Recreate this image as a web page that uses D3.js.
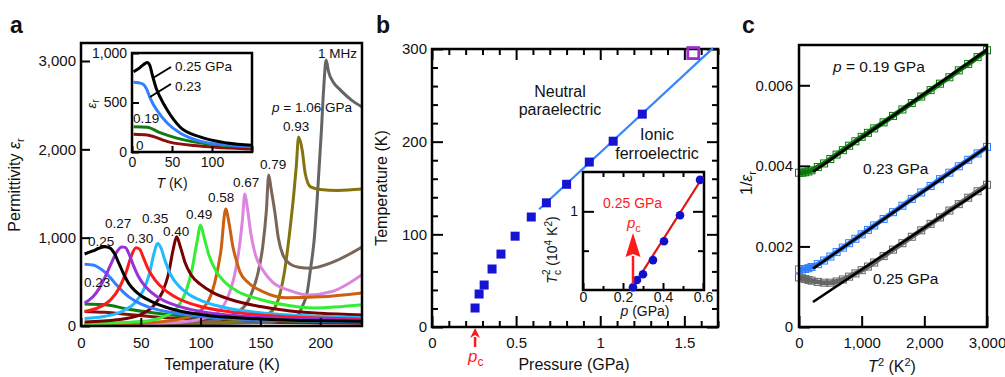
<!DOCTYPE html>
<html>
<head>
<meta charset="utf-8">
<script src="https://cdn.jsdelivr.net/npm/d3@7"></script>
<style>
  body { margin: 0; background: #fff; }
  svg { font-family: "Liberation Sans", Arial, Helvetica, sans-serif; }
</style>
</head>
<body>
<svg id="fig" width="1005" height="377"></svg>
<script>
// ---------------- data, panel a : permittivity vs temperature [T (K), eps] ----------------
var epsP000 = [[3,165],[20,155],[40,130],[60,105],[100,70],[150,45],[200,35],[235,30]];
var epsP019 = [[3,250],[20,240],[40,190],[60,150],[80,120],[100,95],[150,65],[200,50],[235,45]];
var epsP023 = [[3,700],[10,690],[15,660],[20,610],[25,540],[30,460],[35,390],[40,330],[50,250],[60,200],[75,155],[100,110],[150,70],[200,55],[235,50]];
var epsP025 = [[3,815],[10,850],[15,880],[20,898],[24,885],[28,820],[32,700],[36,580],[40,480],[45,400],[50,345],[60,270],[75,195],[100,130],[150,80],[200,60],[235,55]];
var epsP027 = [[3,260],[10,330],[15,420],[20,550],[25,700],[30,840],[34,895],[37,890],[40,820],[44,680],[48,560],[55,430],[65,320],[80,230],[100,165],[150,100],[200,75],[235,65]];
var epsP030 = [[3,165],[15,210],[25,300],[32,430],[38,620],[42,790],[46,885],[49,870],[52,780],[56,650],[62,520],[70,410],[80,320],[100,220],[125,160],[150,125],[200,90],[235,80]];
var epsP035 = [[3,85],[20,110],[35,170],[45,260],[52,400],[57,580],[61,820],[64,935],[67,880],[70,750],[75,580],[82,450],[90,360],[100,290],[120,210],[150,150],[200,110],[235,95]];
var epsP040 = [[3,45],[30,70],[50,130],[60,220],[68,380],[73,580],[77,860],[80,1010],[83,900],[87,720],[92,580],[100,470],[110,380],[125,300],[150,220],[175,170],[200,145],[235,125]];
var epsP049 = [[3,25],[50,50],[70,110],[80,200],[88,400],[93,650],[97,950],[100,1140],[103,1000],[107,800],[113,620],[120,500],[130,400],[150,300],[175,230],[195,205],[235,240]];
var epsP058 = [[3,15],[60,40],[90,100],[105,250],[112,500],[117,850],[121,1325],[124,1150],[127,900],[130,740],[133,610],[140,490],[152,390],[172,320],[200,330],[235,375]];
var epsP067 = [[3,10],[80,40],[110,120],[122,300],[128,550],[132,850],[135,1200],[137,1495],[139,1350],[142,1050],[146,800],[152,635],[160,500],[175,400],[190,350],[210,390],[235,580]];
var epsP079 = [[3,10],[100,40],[130,150],[142,350],[148,600],[152,900],[155,1300],[157,1710],[159,1550],[162,1300],[165,1000],[169,800],[175,700],[182,665],[192,655],[210,720],[235,895]];
var epsP093 = [[3,5],[120,40],[147,100],[158,150],[165,300],[170,600],[175,1120],[178,1500],[180,1800],[182,2140],[185,1990],[187.5,1730],[192,1575],[200,1545],[215,1535],[235,1550]];
var epsP106 = [[3,5],[150,40],[175,90],[181,120],[186,250],[189,370],[192,650],[195,975],[198,1540],[201,2200],[203,2700],[205,3010],[207,2880],[211,2760],[217,2670],[226,2560],[235,2480]];

var pressureLabelsA = ["0.23","0.25","0.27","0.30","0.35","0.40","0.49","0.58","0.67","0.79","0.93"];

// inset of panel a
var insetP000 = [[2,180],[19,172],[47,100],[85,60],[150,30]];
var insetP019 = [[2,255],[19,250],[35,195],[56,140],[85,92],[120,65],[150,52]];
var insetP023 = [[2,705],[8,700],[14,685],[18,640],[22,560],[26,490],[31,424],[44,293],[60,192],[85,110],[120,70],[150,55]];
var insetP025 = [[2,810],[8,840],[14,880],[19,905],[22,880],[26,760],[30,650],[35,556],[44,424],[60,253],[85,152],[119,91],[150,68]];

// ---------------- data, panel b : phase diagram ----------------
var pressureB = [0.256,0.28,0.31,0.357,0.41,0.494,0.59,0.68,0.80,0.935,1.077,1.25];
var tcB = [20.5,35.6,45.3,62.6,78.7,98,118.7,134,154,178,200.5,229.7];
var openPointB = [1.553, 295.6];
var fitLineB = [[0.637,127],[1.67,301]];
var pcValue = 0.256;

// inset of panel b : Tc^2 (10^4 K^2) vs p
var pressureInset = [0.25,0.27,0.30,0.35,0.405,0.485,0.585];
var tc2Inset = [0.035,0.127,0.20,0.38,0.62,0.95,1.40];
var fitLineInset = [[0.245,0.02],[0.6,1.44]];

// ---------------- data, panel c : 1/eps vs T^2 ----------------
var invEpsP019 = [[0,0.00383],[50,0.00383],[100,0.00384],[150,0.00386],[200,0.00389],[300,0.00397],[400,0.00406],[500,0.00417],[600,0.00428],[700,0.00439],[800,0.0045],[900,0.00461],[1000,0.00472],[1100,0.00482],[1200,0.00493],[1350,0.00508],[1500,0.00524],[1650,0.0054],[1800,0.00556],[1950,0.00572],[2100,0.00588],[2250,0.00604],[2400,0.0062],[2550,0.00637],[2700,0.00653],[2850,0.0067],[3000,0.00687]];
var invEpsP023 = [[0,0.00143],[50,0.00143],[100,0.00144],[150,0.00146],[200,0.00149],[300,0.00156],[400,0.00165],[500,0.00175],[600,0.00186],[700,0.00197],[800,0.00208],[900,0.00219],[1000,0.0023],[1100,0.00241],[1200,0.00252],[1350,0.00268],[1500,0.00285],[1650,0.00301],[1800,0.00318],[1950,0.00334],[2100,0.0035],[2250,0.00367],[2400,0.00383],[2550,0.00399],[2700,0.00415],[2850,0.00431],[3000,0.00447]];
var invEpsP025 = [[0,0.00123],[50,0.00121],[100,0.00119],[150,0.00117],[200,0.00115],[300,0.00112],[400,0.0011],[500,0.0011],[600,0.00113],[700,0.00118],[800,0.00125],[900,0.00133],[1000,0.00141],[1100,0.0015],[1200,0.0016],[1350,0.00176],[1500,0.00192],[1650,0.00208],[1800,0.00224],[1950,0.0024],[2100,0.00256],[2250,0.00272],[2400,0.00289],[2550,0.00305],[2700,0.00321],[2850,0.00337],[3000,0.00353]];
var fitP019 = [[223,0.00385],[3000,0.00688]];
var fitP023 = [[223,0.00145],[3000,0.00447]];
var fitP025 = [[223,0.00062],[3000,0.0035]];

// ---------------- styles ----------------
var colourA = {
  "0": "#8a1010", "0.19": "#137a13", "0.23": "#3380ff", "0.25": "#000000",
  "0.27": "#9a30d8", "0.30": "#ff1a1a", "0.35": "#1fbaff", "0.40": "#780000",
  "0.49": "#33ee33", "0.58": "#cc6010", "0.67": "#dd85dd", "0.79": "#7a6658",
  "0.93": "#85730f", "1.06": "#656565"
};
var fontTick = 15, fontLabel = 16;

var svg = d3.select("#fig");

function styleAxis(g, fs) {
  g.select(".domain").remove();
  g.selectAll(".tick line").attr("stroke", "#000").attr("stroke-width", 2);
  g.selectAll(".tick text").attr("font-size", fs).attr("fill", "#111")
    .attr("font-family", "Liberation Sans, Arial, sans-serif");
}

function frame(x0, y0, x1, y1, sw) {
  svg.append("rect")
    .attr("x", x0).attr("y", y0)
    .attr("width", x1 - x0).attr("height", y1 - y0)
    .attr("fill", "none").attr("stroke", "#000").attr("stroke-width", sw);
}

function rotLabel(x, y, parts, fs) {
  var t = svg.append("text")
    .attr("transform", "translate(" + x + "," + y + ") rotate(-90)")
    .attr("text-anchor", "middle").attr("font-size", fs).attr("fill", "#111");
  parts.forEach(function(p) {
    var s = t.append("tspan").text(p.t);
    if (p.i) s.attr("font-style", "italic");
    if (p.dy) s.attr("dy", p.dy);
    if (p.dx) s.attr("dx", p.dx);
    if (p.fs) s.attr("font-size", p.fs);
  });
  return t;
}

function label(x, y, parts, fs, fill, anchor) {
  var t = svg.append("text").attr("x", x).attr("y", y)
    .attr("font-size", fs).attr("fill", fill || "#111")
    .attr("text-anchor", anchor || "start");
  parts.forEach(function(p) {
    var s = t.append("tspan").text(p.t);
    if (p.i) s.attr("font-style", "italic");
    if (p.dy) s.attr("dy", p.dy);
    if (p.dx) s.attr("dx", p.dx);
    if (p.fs) s.attr("font-size", p.fs);
  });
  return t;
}

function arrow(x, yBase, yTip, headLen, headW, col) {
  svg.append("line").attr("x1", x).attr("x2", x)
    .attr("y1", yBase).attr("y2", yTip + headLen - 1)
    .attr("stroke", col).attr("stroke-width", 2.5);
  svg.append("path")
    .attr("d", "M" + x + "," + yTip + "L" + (x - headW / 2) + "," + (yTip + headLen) +
      "L" + x + "," + (yTip + headLen - 3) + "L" + (x + headW / 2) + "," + (yTip + headLen) + "Z")
    .attr("fill", col);
}

// ======================= panel a =======================
var xA = d3.scaleLinear().domain([0, 235]).range([81, 362]);
var yA = d3.scaleLinear().domain([0, 3000]).range([326, 61]);

svg.append("clipPath").attr("id", "clipA").append("rect")
  .attr("x", 81).attr("y", 43).attr("width", 281).attr("height", 283);

var lineA = d3.line().curve(d3.curveMonotoneX)
  .x(function(d) { return xA(d[0]); })
  .y(function(d) { return yA(d[1]); });

var curvesA = [
  ["0", epsP000], ["0.19", epsP019], ["1.06", epsP106], ["0.93", epsP093], ["0.79", epsP079],
  ["0.67", epsP067], ["0.58", epsP058], ["0.49", epsP049], ["0.40", epsP040], ["0.35", epsP035],
  ["0.23", epsP023], ["0.30", epsP030], ["0.27", epsP027], ["0.25", epsP025]
];
var gA = svg.append("g").attr("clip-path", "url(#clipA)");
gA.selectAll("path.curveA").data(curvesA).enter().append("path")
  .attr("class", "curveA")
  .attr("d", function(d) { return lineA(d[1]); })
  .attr("fill", "none")
  .attr("stroke", function(d) { return colourA[d[0]]; })
  .attr("stroke-width", 3)
  .attr("stroke-linejoin", "round");

var axAx = svg.append("g").attr("transform", "translate(0,326)")
  .call(d3.axisBottom(xA).tickValues([0, 50, 100, 150, 200]).tickSize(-8).tickPadding(11));
styleAxis(axAx, fontTick);
var axAy = svg.append("g").attr("transform", "translate(81,0)")
  .call(d3.axisLeft(yA).tickValues([0, 1000, 2000, 3000]).tickSize(-9).tickPadding(5).tickFormat(d3.format(",")));
styleAxis(axAy, fontTick);
frame(81, 43, 362, 326, 2.5);

// curve labels, panel a
var labelPosA = {
  "0.23": [84, 287], "0.25": [88, 246], "0.27": [105, 228], "0.30": [127, 243],
  "0.35": [142, 223], "0.40": [163, 236], "0.49": [186, 219], "0.58": [208, 202],
  "0.67": [233, 187], "0.79": [260, 169], "0.93": [283, 131]
};
pressureLabelsA.forEach(function(p) {
  label(labelPosA[p][0], labelPosA[p][1], [{t: p}], 13.5);
});
label(318, 58, [{t: "1 MHz"}], 13.5);
label(272, 112, [{t: "p", i: true}, {t: " = 1.06 GPa"}], 13.5);

label(10, 33, [{t: "a"}], 23).attr("font-weight", "bold");
rotLabel(20, 185, [{t: "Permittivity "}, {t: "ε", i: true}, {t: "r", dy: 4, fs: 11}], fontLabel);
label(222, 370, [{t: "Temperature (K)"}], fontLabel, "#111", "middle");

// inset of panel a
var xI = d3.scaleLinear().domain([0, 150]).range([132, 252]);
var yI = d3.scaleLinear().domain([0, 1000]).range([152, 53]);
svg.append("rect").attr("x", 132).attr("y", 53).attr("width", 120).attr("height", 99).attr("fill", "#fff");
var lineI = d3.line().curve(d3.curveMonotoneX)
  .x(function(d) { return xI(d[0]); })
  .y(function(d) { return yI(d[1]); });
var curvesI = [["0", insetP000], ["0.19", insetP019], ["0.23", insetP023], ["0.25", insetP025]];
svg.append("g").selectAll("path").data(curvesI).enter().append("path")
  .attr("d", function(d) { return lineI(d[1]); })
  .attr("fill", "none")
  .attr("stroke", function(d) { return colourA[d[0]]; })
  .attr("stroke-width", 3);
var axIx = svg.append("g").attr("transform", "translate(0,152)")
  .call(d3.axisBottom(xI).tickValues([0, 50, 100, 150]).tickSize(-6).tickPadding(5)
    .tickFormat(function(d) { return d === 150 ? "" : d; }));
styleAxis(axIx, 14);
var axIy = svg.append("g").attr("transform", "translate(132,0)")
  .call(d3.axisLeft(yI).tickValues([0, 500, 1000]).tickSize(-7).tickPadding(5).tickFormat(d3.format(",")));
styleAxis(axIy, 14);
frame(132, 53, 252, 152, 2.5);
label(175, 71, [{t: "0.25 GPa"}], 13.5);
label(175, 91, [{t: "0.23"}], 13.5);
label(133, 123, [{t: "0.19"}], 13.5);
label(136, 150, [{t: "0"}], 13.5);
svg.append("line").attr("x1", 153).attr("y1", 78).attr("x2", 171).attr("y2", 67).attr("stroke", "#000").attr("stroke-width", 2);
svg.append("line").attr("x1", 150).attr("y1", 97).attr("x2", 171).attr("y2", 84).attr("stroke", "#000").attr("stroke-width", 2);
label(172, 188, [{t: "T", i: true}, {t: " (K)"}], 14, "#111", "middle");
rotLabel(96, 104, [{t: "ε", i: true}, {t: "r", dy: 3, fs: 10}], 13);

// ======================= panel b =======================
var xB = d3.scaleLinear().domain([0, 1.7]).range([432, 718]);
var yB = d3.scaleLinear().domain([0, 300]).range([327, 49]);

var minorX = d3.range(0, 1.71, 0.1).filter(function(v) { return Math.abs(v * 2 - Math.round(v * 2)) > 1e-6; });
var minorY = d3.range(0, 301, 20).filter(function(v) { return v % 100 !== 0; });

var bxMaj = svg.append("g").attr("transform", "translate(0,327)")
  .call(d3.axisBottom(xB).tickValues([0, 0.5, 1, 1.5]).tickSize(-11).tickPadding(10).tickFormat(d3.format("")));
styleAxis(bxMaj, fontTick);
var bxMin = svg.append("g").attr("transform", "translate(0,327)")
  .call(d3.axisBottom(xB).tickValues(minorX).tickSize(-6).tickFormat(""));
styleAxis(bxMin, fontTick);
var btMaj = svg.append("g").attr("transform", "translate(0,49)")
  .call(d3.axisTop(xB).tickValues([0, 0.5, 1, 1.5]).tickSize(-11).tickFormat(""));
styleAxis(btMaj, fontTick);
var btMin = svg.append("g").attr("transform", "translate(0,49)")
  .call(d3.axisTop(xB).tickValues(minorX).tickSize(-6).tickFormat(""));
styleAxis(btMin, fontTick);
var byMaj = svg.append("g").attr("transform", "translate(432,0)")
  .call(d3.axisLeft(yB).tickValues([0, 100, 200, 300]).tickSize(-11).tickPadding(5));
styleAxis(byMaj, fontTick);
var byMin = svg.append("g").attr("transform", "translate(432,0)")
  .call(d3.axisLeft(yB).tickValues(minorY).tickSize(-6).tickFormat(""));
styleAxis(byMin, fontTick);
var brMaj = svg.append("g").attr("transform", "translate(718,0)")
  .call(d3.axisRight(yB).tickValues([0, 100, 200, 300]).tickSize(-11).tickFormat(""));
styleAxis(brMaj, fontTick);
var brMin = svg.append("g").attr("transform", "translate(718,0)")
  .call(d3.axisRight(yB).tickValues(minorY).tickSize(-6).tickFormat(""));
styleAxis(brMin, fontTick);
frame(432, 49, 718, 327, 2.5);

var lineB = d3.line()
  .x(function(d) { return xB(d[0]); })
  .y(function(d) { return yB(d[1]); });
svg.append("path").datum(fitLineB).attr("d", lineB)
  .attr("fill", "none").attr("stroke", "#3388ff").attr("stroke-width", 2.2);

svg.append("g").selectAll("rect").data(pressureB).enter().append("rect")
  .attr("x", function(d) { return xB(d) - 4.5; })
  .attr("y", function(d, i) { return yB(tcB[i]) - 4.5; })
  .attr("width", 9).attr("height", 9)
  .attr("fill", "#1414d2");
svg.append("rect")
  .attr("x", xB(openPointB[0]) - 5.5).attr("y", yB(openPointB[1]) - 5.5)
  .attr("width", 11).attr("height", 11)
  .attr("fill", "none").attr("stroke", "#9a2fd0").attr("stroke-width", 2.8);

label(560, 97, [{t: "Neutral"}], fontLabel, "#111", "middle");
label(560, 115, [{t: "paraelectric"}], fontLabel, "#111", "middle");
label(657, 140, [{t: "Ionic"}], fontLabel, "#111", "middle");
label(657, 159, [{t: "ferroelectric"}], fontLabel, "#111", "middle");

arrow(xB(pcValue), 347, 328, 10, 10, "#ff1a1a");
label(468, 362, [{t: "p", i: true}, {t: "c", dy: 4, fs: 12}], 17, "#ff1a1a");

label(376, 33, [{t: "b"}], 23).attr("font-weight", "bold");
rotLabel(387, 188, [{t: "Temperature (K)"}], fontLabel);
label(574, 370, [{t: "Pressure (GPa)"}], fontLabel, "#111", "middle");

// inset of panel b
var xBI = d3.scaleLinear().domain([0, 0.605]).range([583, 704]);
var yBI = d3.scaleLinear().domain([0, 1.5]).range([290, 172]);
svg.append("rect").attr("x", 583).attr("y", 172).attr("width", 121).attr("height", 118).attr("fill", "#fff");
var biMaj = svg.append("g").attr("transform", "translate(0,290)")
  .call(d3.axisBottom(xBI).tickValues([0, 0.2, 0.4, 0.6]).tickSize(-7).tickPadding(2).tickFormat(function(d) { return d === 0 ? "0" : d3.format(".1f")(d); }));
styleAxis(biMaj, 14);
var biMin = svg.append("g").attr("transform", "translate(0,290)")
  .call(d3.axisBottom(xBI).tickValues([0.1, 0.3, 0.5]).tickSize(-4).tickFormat(""));
styleAxis(biMin, 14);
var biTop = svg.append("g").attr("transform", "translate(0,172)")
  .call(d3.axisTop(xBI).tickValues([0.1, 0.2, 0.3, 0.4, 0.5]).tickSize(-5).tickFormat(""));
styleAxis(biTop, 14);
var biY = svg.append("g").attr("transform", "translate(583,0)")
  .call(d3.axisLeft(yBI).tickValues([1]).tickSize(-11).tickPadding(5).tickFormat(d3.format("d")));
styleAxis(biY, 14);
var biYm = svg.append("g").attr("transform", "translate(583,0)")
  .call(d3.axisLeft(yBI).tickValues([0.5]).tickSize(-6).tickFormat(""));
styleAxis(biYm, 14);
var biR = svg.append("g").attr("transform", "translate(704,0)")
  .call(d3.axisRight(yBI).tickValues([1]).tickSize(-11).tickFormat(""));
styleAxis(biR, 14);
var biRm = svg.append("g").attr("transform", "translate(704,0)")
  .call(d3.axisRight(yBI).tickValues([0.5]).tickSize(-6).tickFormat(""));
styleAxis(biRm, 14);
frame(583, 172, 704, 290, 2.5);

var lineBI = d3.line()
  .x(function(d) { return xBI(d[0]); })
  .y(function(d) { return yBI(d[1]); });
svg.append("path").datum(fitLineInset).attr("d", lineBI)
  .attr("fill", "none").attr("stroke", "#e01515").attr("stroke-width", 2.2);
svg.append("g").selectAll("circle").data(pressureInset).enter().append("circle")
  .attr("cx", function(d) { return xBI(d); })
  .attr("cy", function(d, i) { return yBI(tc2Inset[i]); })
  .attr("r", 4.3).attr("fill", "#1010cc");

label(603, 208, [{t: "0.25 GPa"}], 14, "#ff1a1a");
arrow(xBI(0.25), 284, 233, 24, 15, "#ff1a1a");
label(627, 228, [{t: "p", i: true}, {t: "c", dy: 4, fs: 11}], 15, "#ff1a1a");
label(645, 316, [{t: "p", i: true}, {t: " (GPa)"}], 14, "#111", "middle");
rotLabel(557, 250, [{t: "T", i: true}, {t: "c", dy: 4, fs: 10}, {t: "2", dx: -5, dy: -11, fs: 10},
  {t: " (10", dy: 7}, {t: "4", dy: -5, fs: 10}, {t: " K", dy: 5}, {t: "2", dy: -5, fs: 10}, {t: ")", dy: 5}], 14);

// ======================= panel c =======================
var xC = d3.scaleLinear().domain([0, 3000]).range([799, 987]);
var yC = d3.scaleLinear().domain([0, 0.007]).range([327, 45]);

var lineC = d3.line().curve(d3.curveMonotoneX)
  .x(function(d) { return xC(d[0]); })
  .y(function(d) { return yC(d[1]); });

var seriesC = [
  {data: invEpsP019, col: "#0a7a0a"},
  {data: invEpsP023, col: "#2f7dff"},
  {data: invEpsP025, col: "#666666"}
];
seriesC.forEach(function(s) {
  svg.append("path").datum(s.data).attr("d", lineC)
    .attr("fill", "none").attr("stroke", s.col).attr("stroke-width", 5);
  svg.append("g").selectAll("rect").data(s.data).enter().append("rect")
    .attr("x", function(d) { return xC(d[0]) - 3.5; })
    .attr("y", function(d) { return yC(d[1]) - 3.5; })
    .attr("width", 7).attr("height", 7)
    .attr("fill", "none").attr("stroke", s.col).attr("stroke-width", 1);
});
[fitP019, fitP023, fitP025].forEach(function(f) {
  svg.append("path").datum(f).attr("d", lineC)
    .attr("fill", "none").attr("stroke", "#000").attr("stroke-width", 2.6);
});

var cx = svg.append("g").attr("transform", "translate(0,327)")
  .call(d3.axisBottom(xC).tickValues([0, 1000, 2000, 3000]).tickSize(-11).tickPadding(10).tickFormat(d3.format(",")));
styleAxis(cx, fontTick);
var cy = svg.append("g").attr("transform", "translate(799,0)")
  .call(d3.axisLeft(yC).tickValues([0, 0.002, 0.004, 0.006]).tickSize(-11).tickPadding(6)
    .tickFormat(function(d) { return d === 0 ? "0" : d3.format(".3f")(d); }));
styleAxis(cy, fontTick);
frame(799, 45, 987, 327, 2.5);

label(833, 72, [{t: "p", i: true}, {t: " = 0.19 GPa"}], 15.5);
label(863, 174, [{t: "0.23 GPa"}], 15.5);
label(873, 284, [{t: "0.25 GPa"}], 15.5);

label(742, 33, [{t: "c"}], 23).attr("font-weight", "bold");
rotLabel(752, 183, [{t: "1/"}, {t: "ε", i: true}, {t: "r", dy: 4, fs: 11}], fontLabel);
label(892, 372, [{t: "T", i: true}, {t: "2", dy: -6, fs: 11}, {t: " (K", dy: 6}, {t: "2", dy: -6, fs: 11}, {t: ")", dy: 6}], fontLabel, "#111", "middle");
</script>
</body>
</html>
